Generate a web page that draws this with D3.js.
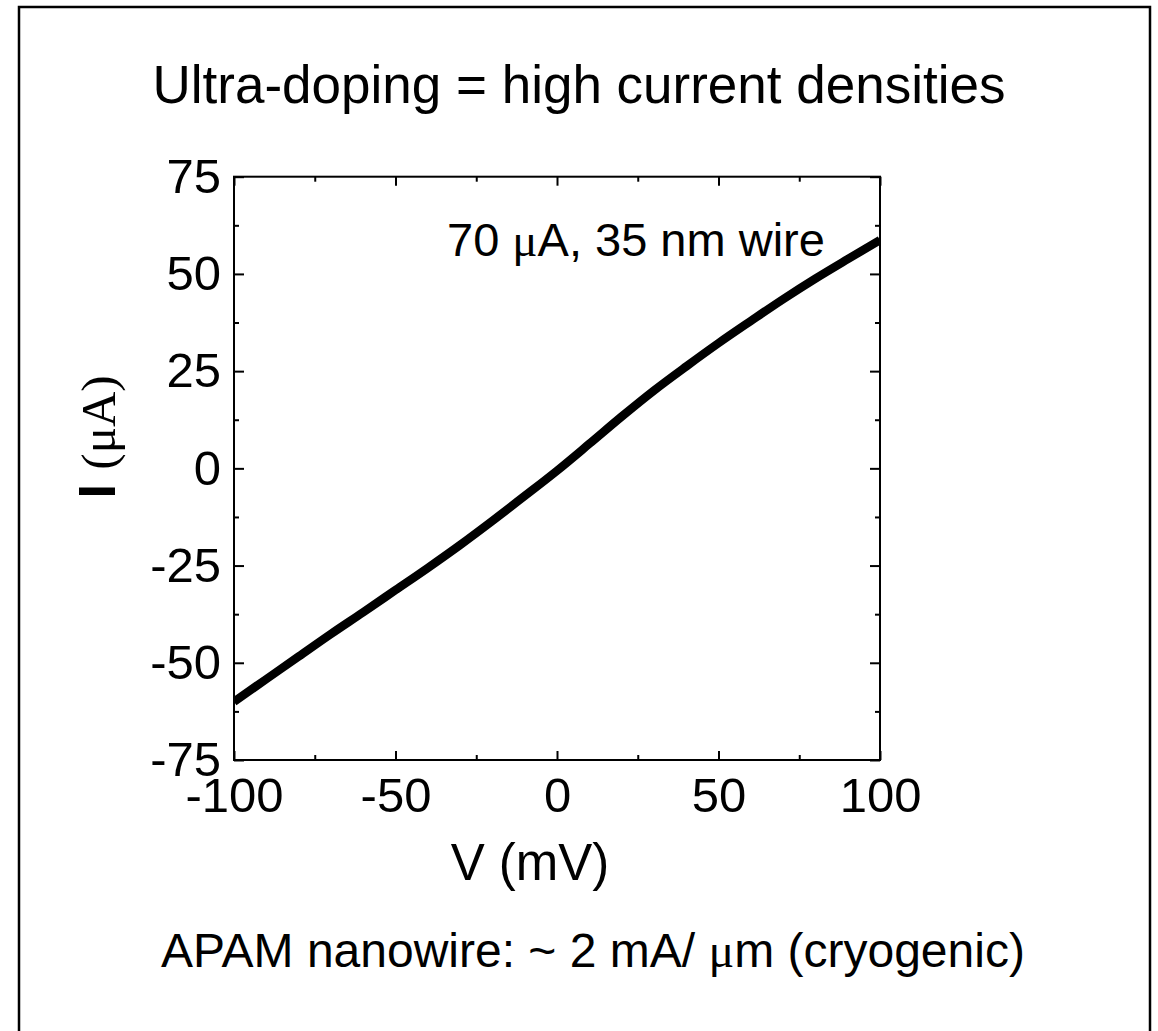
<!DOCTYPE html>
<html>
<head>
<meta charset="utf-8">
<script src="https://cdn.jsdelivr.net/npm/d3@7.9.0/dist/d3.min.js"></script>
<style>
  html, body { margin: 0; padding: 0; background: #fff; }
  svg { display: block; font-family: "Liberation Sans", Arial, sans-serif; }
</style>
</head>
<body>
<svg id="chart" width="1158" height="1031"></svg>
<script>
// ---------- Data ----------
const voltage = [-100, -90, -80, -70, -60, -50, -40, -30, -20, -10, 0, 10, 20, 30, 40, 50, 60, 70, 80, 90, 100];
const current = [-60, -54.2, -48.4, -42.6, -37, -31.3, -25.6, -19.7, -13.5, -7.1, -0.6, 6.3, 13.3, 20, 26.2, 32.2, 37.9, 43.5, 48.8, 53.8, 58.7];

const xMajorTicks = [-100, -50, 0, 50, 100];
const xMinorTicks = [-75, -25, 25, 75];
const yMajorTicks = [-75, -50, -25, 0, 25, 50, 75];
const yMinorTicks = [-62.5, -37.5, -12.5, 12.5, 37.5, 62.5];

const titleText = 'Ultra-doping = high current densities';
const xLabel = 'V (mV)';
const noteText = ['70 ', 'μ', 'A, 35 nm wire'];
const footerText = ['APAM nanowire: ~ 2 mA/ ', 'μ', 'm (cryogenic)'];

// ---------- Layout ----------
const svg = d3.select('#chart');
const plot = { left: 234, right: 880, top: 176.7, bottom: 760 };

const x = d3.scaleLinear().domain([-100, 100]).range([plot.left, plot.right]);
const y = d3.scaleLinear().domain([-75, 75]).range([plot.bottom, plot.top]);

// plain hyphen for negatives, like the original figure
const fmt = (d) => String(d);

// page frame (bottom edge runs off the page)
svg.append('rect')
  .attr('x', 19).attr('y', 7)
  .attr('width', 1131).attr('height', 1060)
  .attr('fill', 'none').attr('stroke', '#000').attr('stroke-width', 2.5);

// title
svg.append('text')
  .attr('x', 579).attr('y', 103)
  .attr('text-anchor', 'middle')
  .style('font-size', '53px')
  .text(titleText);

// ---------- Axes ----------
const tickFont = '49px';

function styleAxis(g) {
  g.select('.domain').remove();
  g.selectAll('.tick line').attr('stroke', '#000').attr('stroke-width', 2);
  g.selectAll('.tick text').attr('fill', '#000').style('font-size', tickFont)
    .style('font-family', '"Liberation Sans", Arial, sans-serif');
}

// bottom
svg.append('g')
  .attr('transform', `translate(0,${plot.bottom})`)
  .call(d3.axisBottom(x).tickValues(xMajorTicks).tickFormat(fmt).tickSize(-9).tickSizeOuter(0).tickPadding(17))
  .call(styleAxis);
svg.append('g')
  .attr('transform', `translate(0,${plot.bottom})`)
  .call(d3.axisBottom(x).tickValues(xMinorTicks).tickSize(-5).tickFormat(''))
  .call(styleAxis);

// top
svg.append('g')
  .attr('transform', `translate(0,${plot.top})`)
  .call(d3.axisTop(x).tickValues(xMajorTicks).tickSize(-9).tickFormat(''))
  .call(styleAxis);
svg.append('g')
  .attr('transform', `translate(0,${plot.top})`)
  .call(d3.axisTop(x).tickValues(xMinorTicks).tickSize(-5).tickFormat(''))
  .call(styleAxis);

// left
svg.append('g')
  .attr('transform', `translate(${plot.left},0)`)
  .call(d3.axisLeft(y).tickValues(yMajorTicks).tickFormat(fmt).tickSize(-10).tickSizeOuter(0).tickPadding(13))
  .call(styleAxis);
svg.append('g')
  .attr('transform', `translate(${plot.left},0)`)
  .call(d3.axisLeft(y).tickValues(yMinorTicks).tickSize(-5).tickFormat(''))
  .call(styleAxis);

// right
svg.append('g')
  .attr('transform', `translate(${plot.right},0)`)
  .call(d3.axisRight(y).tickValues(yMajorTicks).tickSize(-10).tickFormat(''))
  .call(styleAxis);
svg.append('g')
  .attr('transform', `translate(${plot.right},0)`)
  .call(d3.axisRight(y).tickValues(yMinorTicks).tickSize(-5).tickFormat(''))
  .call(styleAxis);

// frame of the plot
svg.append('rect')
  .attr('x', plot.left).attr('y', plot.top)
  .attr('width', plot.right - plot.left).attr('height', plot.bottom - plot.top)
  .attr('fill', 'none').attr('stroke', '#000').attr('stroke-width', 2);

// ---------- Curve ----------
const points = voltage.map((v, i) => [v, current[i]]);
svg.append('defs').append('clipPath').attr('id', 'plot-clip')
  .append('rect')
  .attr('x', plot.left).attr('y', plot.top)
  .attr('width', plot.right - plot.left).attr('height', plot.bottom - plot.top);

svg.append('path')
  .datum(points)
  .attr('clip-path', 'url(#plot-clip)')
  .attr('fill', 'none')
  .attr('stroke', '#000')
  .attr('stroke-width', 8.5)
  .attr('d', d3.line().x((d) => x(d[0])).y((d) => y(d[1])).curve(d3.curveMonotoneX));

// ---------- Labels ----------
svg.append('text')
  .attr('x', 530).attr('y', 880)
  .attr('text-anchor', 'middle')
  .style('font-size', '51px')
  .text(xLabel);

const yLab = svg.append('text')
  .attr('transform', 'translate(115,437) rotate(-90)')
  .attr('text-anchor', 'middle');
yLab.append('tspan').style('font-size', '52px').style('font-weight', 'bold').text('I ');
yLab.append('tspan').style('font-size', '49px')
  .style('font-family', '"Liberation Serif", "Times New Roman", serif').text('(μA)');

function mixedText(parts, attrs) {
  const t = svg.append('text');
  Object.entries(attrs).forEach(([k, v]) => t.attr(k, v));
  parts.forEach((p, i) => {
    const s = t.append('tspan').text(p);
    if (i === 1) s.style('font-family', '"Liberation Serif", "Times New Roman", serif');
  });
  return t;
}

mixedText(noteText, { x: 447, y: 256 }).style('font-size', '47px');
mixedText(footerText, { x: 593, y: 967, 'text-anchor': 'middle' }).style('font-size', '48px');
</script>
</body>
</html>
